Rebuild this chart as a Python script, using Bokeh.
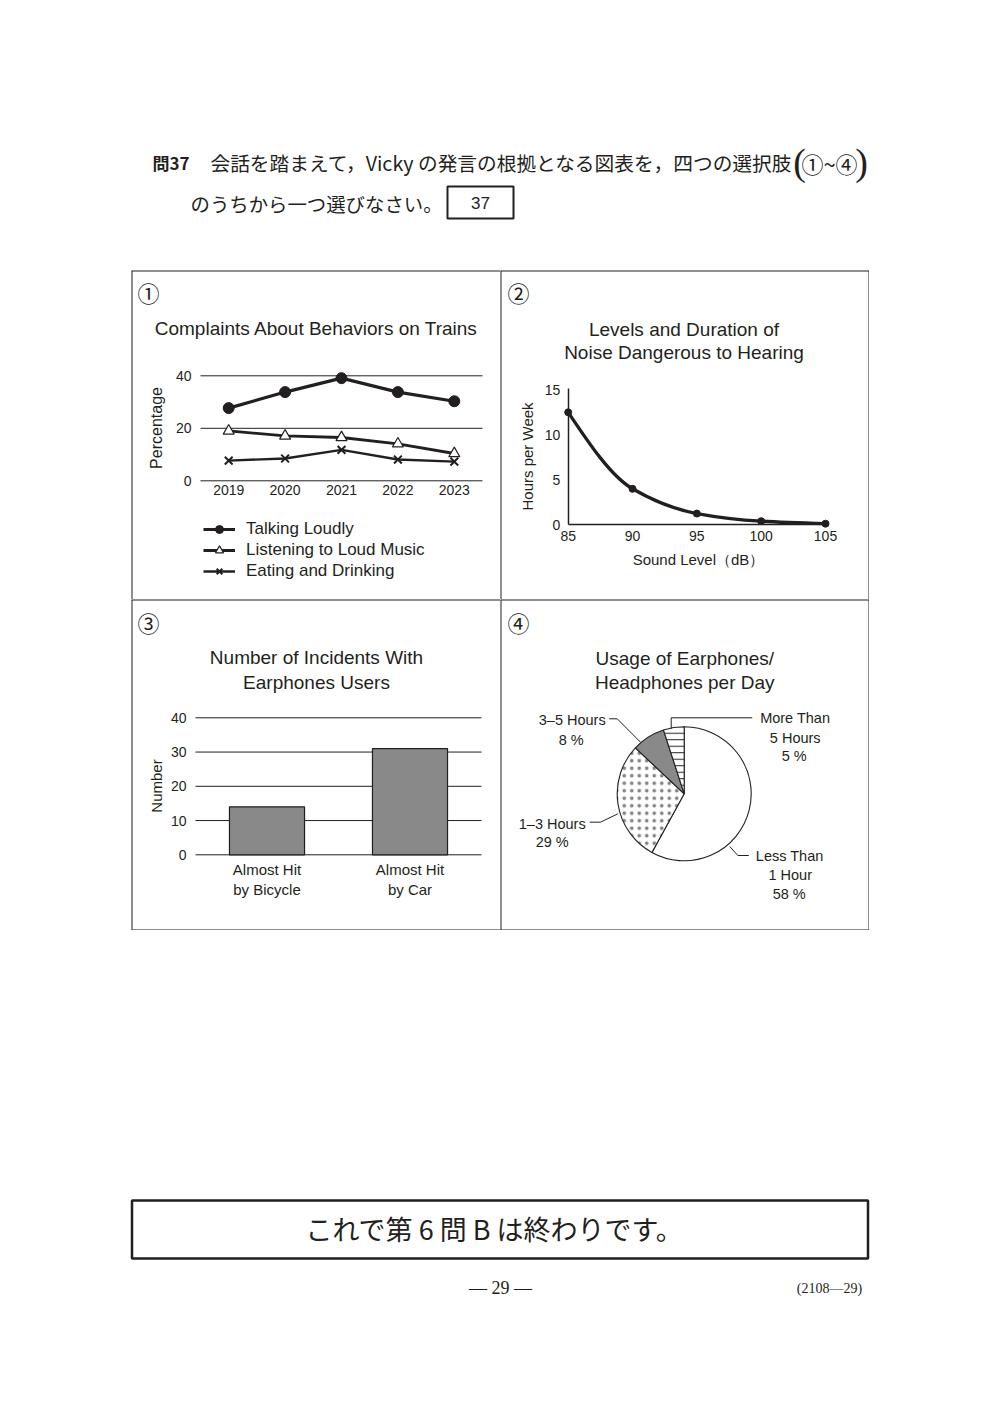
import math
from bokeh.plotting import figure
from bokeh.models import Range1d, FixedTicker, Label, ColumnDataSource, Spacer
from bokeh.layouts import row, column
from bokeh.embed import file_html
from bokeh.resources import INLINE

INK = "#231f20"
GRAY = "#898989"
SANS = "Liberation Sans"
JP = "Noto Sans CJK JP"
SERIF = "Liberation Serif"

# ---------------- data ----------------
# (1) Complaints About Behaviors on Trains
years = [2019, 2020, 2021, 2022, 2023]
year_labels = ["2019", "2020", "2021", "2022", "2023"]
talking_loudly = [27.7, 33.8, 39.1, 33.8, 30.3]
listening_music = [19.0, 17.1, 16.5, 14.1, 10.4]
eating_drinking = [7.7, 8.5, 11.8, 8.1, 7.3]
pct_ticks = [0, 20, 40]

# (2) Levels and Duration of Noise Dangerous to Hearing
sound_db = [85, 90, 95, 100, 105]
hours_per_week = [12.5, 4.0, 1.25, 0.4, 0.125]
db_ticks = [85, 90, 95, 100, 105]
hours_ticks = [0, 5, 10, 15]

# (3) Number of Incidents With Earphones Users
incident_types = ["Almost Hit\nby Bicycle", "Almost Hit\nby Car"]
incident_counts = [14, 31]
count_ticks = [0, 10, 20, 30, 40]

# (4) Usage of Earphones/Headphones per Day
usage_names = ["Less Than 1 Hour", "1–3 Hours", "3–5 Hours", "More Than 5 Hours"]
usage_pct = [58, 29, 8, 5]

# ---------------- page geometry (page pixels: left, top, width, height) ----------------
CELL1 = (131, 270, 369, 329)
CELL2 = (500, 270, 369, 329)
CELL3 = (131, 599, 369, 331)
CELL4 = (500, 599, 369, 331)


# ---------------- helpers ----------------
def lab(p, x, y, text, size, font=SANS, align="center", units="data", style="normal"):
    p.add_layout(Label(x=x, y=y, text=text, x_units=units, y_units=units,
                       text_font=font, text_font_size=f"{size}px", text_color=INK,
                       text_align=align, text_baseline="middle", text_font_style=style))


def lab_page(p, cell, px, py, text, size, font=SANS, style="normal"):
    cx, cy, w, h = cell
    lab(p, px - cx, cy + h - py, text, size, font=font, units="screen", style=style)


def canvas(w, h, xr, yr, axes=False):
    kw = {} if axes else dict(x_axis_location=None, y_axis_location=None)
    p = figure(width=w, height=h, x_range=xr, y_range=yr, toolbar_location=None,
               output_backend="svg", title=None, frame_align=False,
               min_border=0, min_border_left=0, min_border_right=0, min_border_top=0,
               min_border_bottom=0, **kw)
    p.grid.visible = False
    p.outline_line_color = None
    p.background_fill_color = "white"
    p.border_fill_color = "white"
    return p


def cell_fig(cell, px0, px1, dx0, dx1, py0, py1, dy0, dy1, axes=True):
    """Full-cell figure whose data dx0..dx1 sits at page px0..px1 and dy0..dy1 at page py0..py1."""
    cx, cy, w, h = cell
    sx = (px1 - px0) / (dx1 - dx0)
    sy = (py0 - py1) / (dy1 - dy0)
    xr = Range1d(dx0 - (px0 - cx) / sx, dx0 + (cx + w - px0) / sx)
    yr = Range1d(dy0 - (cy + h - py0) / sy, dy0 + (py0 - cy) / sy)
    return canvas(w, h, xr, yr, axes=axes)


def borders(p, right=False, bottom=False):
    x0, x1 = p.x_range.start, p.x_range.end
    y0, y1 = p.y_range.start, p.y_range.end
    sx0, sy0, sx1, sy1 = [x0, x0], [y0, y1], [x0, x1], [y1, y1]
    if right:
        sx0.append(x1); sy0.append(y0); sx1.append(x1); sy1.append(y1)
    if bottom:
        sx0.append(x0); sy0.append(y0); sx1.append(x1); sy1.append(y0)
    p.segment(x0=sx0, y0=sy0, x1=sx1, y1=sy1, line_color=INK, line_width=2)


def style_axes(p, size=14, label_size=16):
    for ax in p.axis:
        ax.major_label_text_font = SANS
        ax.major_label_text_font_size = f"{size}px"
        ax.major_label_text_color = INK
        ax.axis_label_text_font = SANS
        ax.axis_label_text_font_size = f"{label_size}px"
        ax.axis_label_text_font_style = "normal"
        ax.axis_label_text_color = INK
        ax.major_tick_line_color = None
        ax.minor_tick_line_color = None
        ax.major_tick_in = 0
        ax.major_tick_out = 0


# ---------------- header ----------------
hdr = canvas(984, 262, Range1d(8, 992), Range1d(270, 8))
lab(hdr, 152, 162, "問37", 17, font=JP, align="left", style="bold")
lab(hdr, 210, 162, "会話を踏まえて，Vicky の発言の根拠となる図表を，四つの選択肢", 19.7, font=JP, align="left")
lab(hdr, 799, 161, "(", 38, font=SERIF)
lab(hdr, 829, 162, "①~④", 22, font=JP)
lab(hdr, 861, 161, ")", 38, font=SERIF)
lab(hdr, 190, 203, "のうちから一つ選びなさい。", 19.4, font=JP, align="left")
hdr.quad(left=[447], right=[513], top=[186], bottom=[218], fill_color=None, line_color=INK, line_width=2)
lab(hdr, 480, 202, "37", 17)

# ---------------- chart 1 ----------------
c1 = cell_fig(CELL1, 200, 482, 2018.5, 2023.5, 480.3, 375.3, 0, 40)
borders(c1)
c1.segment(x0=2018.5, x1=2023.5, y0=pct_ticks, y1=pct_ticks, line_color=INK, line_width=1)
c1.line(years, talking_loudly, line_width=3.2, color=INK, legend_label="Talking Loudly")
c1.scatter(years, talking_loudly, marker="circle", size=11, color=INK, legend_label="Talking Loudly")
c1.line(years, listening_music, line_width=2.8, color=INK, legend_label="Listening to Loud Music")
c1.scatter(years, listening_music, marker="triangle", size=11, fill_color="white", line_color=INK,
           line_width=1.2, legend_label="Listening to Loud Music")
c1.line(years, eating_drinking, line_width=2.4, color=INK, legend_label="Eating and Drinking")
c1.scatter(years, eating_drinking, marker="x", size=11, line_color=INK, line_width=2,
           legend_label="Eating and Drinking")
c1.xaxis.ticker = FixedTicker(ticks=years)
c1.xaxis.major_label_overrides = {y: s for y, s in zip(years, year_labels)}
c1.xaxis.fixed_location = 0
c1.xaxis.bounds = (2018.5, 2023.5)
c1.yaxis.ticker = FixedTicker(ticks=pct_ticks)
c1.yaxis.fixed_location = 2018.5
c1.yaxis.bounds = (0, 40)
c1.yaxis.axis_label = "Percentage"
style_axes(c1, 14, 16)
for ax in c1.axis:
    ax.axis_line_color = None
c1.xaxis.major_label_standoff = 4
c1.yaxis.major_label_standoff = 9
c1.yaxis.axis_label_standoff = 8
leg = c1.legend[0]
leg.location = (72, 18)
leg.glyph_width = 32
leg.glyph_height = 20
leg.label_height = 20
leg.label_standoff = 11
leg.padding = 0
leg.margin = 0
leg.spacing = 1
leg.border_line_color = None
leg.background_fill_alpha = 0
leg.label_text_font = SANS
leg.label_text_font_size = "17px"
leg.label_text_color = INK
lab_page(c1, CELL1, 148, 291, "①", 22, font=JP)
lab_page(c1, CELL1, 316, 328, "Complaints About Behaviors on Trains", 19)

# ---------------- chart 2 ----------------
c2 = cell_fig(CELL2, 567.7, 825, 85, 105, 524.3, 389.3, 0, 15)
borders(c2, right=True)


def monotone_bezier(xs, ys):
    n = len(xs)
    d = [(ys[i + 1] - ys[i]) / (xs[i + 1] - xs[i]) for i in range(n - 1)]
    m = [0.0] * n
    for i in range(1, n - 1):
        if d[i - 1] * d[i] > 0:
            m[i] = 2.0 / (1.0 / d[i - 1] + 1.0 / d[i])
    m[0] = (3 * d[0] - m[1]) / 2
    m[-1] = (3 * d[-1] - m[-2]) / 2
    seg = dict(x0=[], y0=[], x1=[], y1=[], cx0=[], cy0=[], cx1=[], cy1=[])
    for i in range(n - 1):
        h = xs[i + 1] - xs[i]
        seg["x0"].append(xs[i]); seg["y0"].append(ys[i])
        seg["x1"].append(xs[i + 1]); seg["y1"].append(ys[i + 1])
        seg["cx0"].append(xs[i] + h / 3); seg["cy0"].append(ys[i] + m[i] * h / 3)
        seg["cx1"].append(xs[i + 1] - h / 3); seg["cy1"].append(ys[i + 1] - m[i + 1] * h / 3)
    return seg


c2.bezier(source=ColumnDataSource(monotone_bezier(sound_db, hours_per_week)),
          x0="x0", y0="y0", x1="x1", y1="y1", cx0="cx0", cy0="cy0", cx1="cx1", cy1="cy1",
          line_color=INK, line_width=3.3)
c2.scatter(sound_db, hours_per_week, marker="circle", size=7, color=INK)
c2.xaxis.ticker = FixedTicker(ticks=db_ticks)
c2.yaxis.ticker = FixedTicker(ticks=hours_ticks)
c2.xaxis.fixed_location = 0
c2.yaxis.fixed_location = 85
c2.xaxis.bounds = (85, 105.2)
c2.yaxis.bounds = (0, 15.2)
c2.xaxis.axis_label = "Sound Level（dB）"
c2.yaxis.axis_label = "Hours per Week"
style_axes(c2, 14, 15)
for ax in c2.axis:
    ax.axis_line_color = INK
    ax.axis_line_width = 1.5
c2.xaxis.major_label_standoff = 6
c2.xaxis.axis_label_standoff = 7
c2.yaxis.major_label_standoff = 8
c2.yaxis.axis_label_standoff = 6
lab_page(c2, CELL2, 518, 291, "②", 22, font=JP)
lab_page(c2, CELL2, 683.5, 329, "Levels and Duration of", 19)
lab_page(c2, CELL2, 683.5, 351.7, "Noise Dangerous to Hearing", 19)

# ---------------- chart 3 ----------------
bar_pos = [i + 0.5 for i in range(len(incident_types))]
c3 = cell_fig(CELL3, 195, 481, 0, len(incident_types), 854.3, 717.3, 0, 40)
borders(c3, bottom=True)
c3.segment(x0=0, x1=len(incident_types), y0=count_ticks, y1=count_ticks, line_color=INK, line_width=1)
c3.vbar(x=bar_pos, top=incident_counts, width=0.525, fill_color=GRAY, line_color=INK, line_width=1.2)
c3.xaxis.ticker = FixedTicker(ticks=bar_pos)
c3.xaxis.major_label_overrides = {x: s for x, s in zip(bar_pos, incident_types)}
c3.xaxis.fixed_location = 0
c3.xaxis.bounds = (0, len(incident_types))
c3.yaxis.ticker = FixedTicker(ticks=count_ticks)
c3.yaxis.fixed_location = 0
c3.yaxis.bounds = (0, 40)
c3.yaxis.axis_label = "Number"
style_axes(c3, 14, 15)
for ax in c3.axis:
    ax.axis_line_color = None
c3.xaxis.major_label_text_font_size = "15px"
c3.xaxis.major_label_standoff = 6
c3.yaxis.major_label_standoff = 9
c3.yaxis.axis_label_standoff = 3
lab_page(c3, CELL3, 148, 621, "③", 22, font=JP)
lab_page(c3, CELL3, 316, 657.3, "Number of Incidents With", 19)
lab_page(c3, CELL3, 316, 681.7, "Earphones Users", 19)

# ---------------- chart 4 (pie centred at data 0,0; 1 data unit = 1 px) ----------------
c4 = cell_fig(CELL4, 683.7, 784.7, 0, 101, 793.3, 692.3, 0, 101, axes=False)
borders(c4, right=True, bottom=True)
cum = [0.0]
for v in usage_pct:
    cum.append(cum[-1] + v)
total = cum[-1]
pie = ColumnDataSource(dict(
    name=usage_names,
    start=[math.pi / 2 - 2 * math.pi * cum[i] / total for i in range(len(usage_pct))],
    end=[math.pi / 2 - 2 * math.pi * cum[i + 1] / total for i in range(len(usage_pct))],
    fill=["white", "white", GRAY, "white"],
    hatch=[" ", "dot", " ", "horizontal_line"],
    hscale=[8, 7.5, 8, 6.5],
    hweight=[1, 0.3, 1, 1],
    halpha=[1, 0.55, 1, 1],
))
c4.wedge(x=0, y=0, radius=67, start_angle="start", end_angle="end", direction="clock", source=pie,
         fill_color="fill", line_color=INK, line_width=1.1, hatch_pattern="hatch",
         hatch_color=INK, hatch_alpha="halpha", hatch_scale="hscale", hatch_weight="hweight")
leaders = dict(
    xs=[[-75, -67, -43.7], [-13, -13, 68], [-94.4, -83.7, -66.4], [45.6, 53.6, 64.6]],
    ys=[[75, 75, 51.6], [65, 76, 76], [-28.4, -28.4, -20], [-52.7, -61.7, -61.7]],
)
c4.multi_line(xs=leaders["xs"], ys=leaders["ys"], line_color=INK, line_width=1)
lab(c4, -112, 74, "3–5 Hours", 14.5)
lab(c4, -113, 54, f"{usage_pct[2]} %", 14.5)
lab(c4, 111, 76, "More Than", 14.5)
lab(c4, 111, 56, "5 Hours", 14.5)
lab(c4, 110, 37.6, f"{usage_pct[3]} %", 14.5)
lab(c4, -132, -30, "1–3 Hours", 14.5)
lab(c4, -132, -48.4, f"{usage_pct[1]} %", 14.5)
lab(c4, 105.5, -61.7, "Less Than", 14.5)
lab(c4, 106, -80.7, "1 Hour", 14.5)
lab(c4, 105, -100, f"{usage_pct[0]} %", 14.5)
lab_page(c4, CELL4, 518, 621, "④", 22, font=JP)
lab_page(c4, CELL4, 684.3, 658.3, "Usage of Earphones/", 19)
lab_page(c4, CELL4, 684.3, 681.7, "Headphones per Day", 19)

# ---------------- footer ----------------
ftr = canvas(984, 475, Range1d(8, 992), Range1d(1405, 930))
ftr.quad(left=[131.5], right=[867.5], top=[1200], bottom=[1258], fill_color=None, line_color=INK, line_width=2.5)
lab(ftr, 494, 1228, "これで第 6 問 B は終わりです。", 27, font=JP)
lab(ftr, 500, 1287, "— 29 —", 18, font=SERIF)
lab(ftr, 829, 1288, "(2108—29)", 14, font=SERIF)

# ---------------- layout ----------------
grid = column(row(c1, c2), row(c3, c4))
page = row(Spacer(width=8, height=1397),
           column(Spacer(width=984, height=8), hdr, row(Spacer(width=123, height=660), grid), ftr))

open("out.html", "w").write(file_html(page, INLINE, title="問37"))
